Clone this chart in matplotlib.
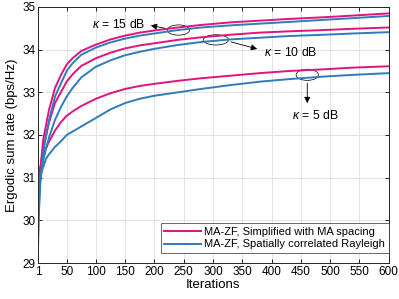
import matplotlib
matplotlib.use("Agg")
import matplotlib.pyplot as plt
from matplotlib.patches import Ellipse

plt.rcParams['font.family'] = ['Liberation Sans', 'DejaVu Sans']
plt.rcParams['mathtext.fontset'] = 'custom'
plt.rcParams['mathtext.it'] = 'Liberation Sans:italic'

iters = [1, 2, 5, 10, 15, 20, 30, 40, 50, 60, 75, 100, 125, 150, 175, 200, 240, 280, 330, 380, 430, 490, 540, 600]

red_k15 = [29.6, 30.4, 31.2, 31.9, 32.25, 32.6, 33.1, 33.4, 33.65, 33.8, 33.97, 34.12, 34.24, 34.33, 34.40, 34.45, 34.52, 34.58, 34.64, 34.68, 34.72, 34.76, 34.80, 34.85]
blue_k15 = [29.3, 30.0, 30.9, 31.6, 32.0, 32.35, 32.9, 33.2, 33.5, 33.68, 33.88, 34.05, 34.17, 34.26, 34.33, 34.38, 34.46, 34.52, 34.57, 34.61, 34.65, 34.70, 34.74, 34.79]
red_k10 = [30.0, 30.6, 31.2, 31.7, 32.0, 32.3, 32.75, 33.0, 33.25, 33.42, 33.62, 33.8, 33.93, 34.03, 34.10, 34.15, 34.23, 34.29, 34.35, 34.40, 34.43, 34.46, 34.49, 34.52]
blue_k10 = [29.5, 30.2, 30.95, 31.4, 31.7, 31.95, 32.35, 32.65, 32.9, 33.1, 33.35, 33.6, 33.75, 33.87, 33.95, 34.02, 34.11, 34.18, 34.24, 34.28, 34.32, 34.35, 34.38, 34.41]
red_k5 = [30.8, 31.0, 31.25, 31.5, 31.7, 31.85, 32.1, 32.3, 32.45, 32.55, 32.68, 32.85, 32.98, 33.08, 33.15, 33.2, 33.27, 33.33, 33.39, 33.45, 33.50, 33.54, 33.58, 33.61]
blue_k5 = [30.75, 30.9, 31.05, 31.25, 31.45, 31.55, 31.72, 31.85, 32.0, 32.08, 32.2, 32.4, 32.6, 32.75, 32.85, 32.92, 33.0, 33.08, 33.17, 33.25, 33.31, 33.37, 33.41, 33.45]

xticks = [1, 50, 100, 150, 200, 250, 300, 350, 400, 450, 500, 550, 600]
yticks = [29, 30, 31, 32, 33, 34, 35]
legend_labels = ['MA-ZF, Simplified with MA spacing', 'MA-ZF, Spatially correlated Rayleigh']

RED = '#E0147A'
BLUE = '#2F7BBF'

fig = plt.figure(figsize=(3.99, 2.99), dpi=100)
ax = fig.add_axes([0.0952, 0.1204, 0.8788, 0.8562])

lw = 1.4
l1, = ax.plot(iters, red_k15, color=RED, lw=lw)
ax.plot(iters, red_k10, color=RED, lw=lw)
ax.plot(iters, red_k5, color=RED, lw=lw)
l2, = ax.plot(iters, blue_k15, color=BLUE, lw=lw)
ax.plot(iters, blue_k10, color=BLUE, lw=lw)
ax.plot(iters, blue_k5, color=BLUE, lw=lw)

ax.set_xlim(1, 600)
ax.set_ylim(29, 35)
ax.set_xticks(xticks)
ax.set_yticks(yticks)
ax.grid(True, color='#E3E3E3', lw=0.7)
ax.set_axisbelow(True)
ax.tick_params(direction='in', top=True, right=True, labelsize=8.5, length=3, width=0.6, pad=2)
for s in ax.spines.values():
    s.set_linewidth(0.7)
    s.set_color('#262626')

ax.set_xlabel('Iterations', fontsize=9.5, labelpad=1)
ax.set_ylabel('Ergodic sum rate (bps/Hz)', fontsize=9.5, labelpad=3)

# annotations
ell_kw = dict(fill=False, ec='#222222', lw=0.6)
ax.add_patch(Ellipse((241, 34.46), 38, 0.24, **ell_kw))
ax.add_patch(Ellipse((305, 34.23), 43, 0.24, **ell_kw))
ax.add_patch(Ellipse((461, 33.41), 38, 0.26, **ell_kw))

arr = dict(arrowstyle='-|>', color='black', lw=0.6, mutation_scale=9)
ax.annotate('', xy=(189, 34.58), xytext=(222, 34.49), arrowprops=arr)
ax.text(185, 34.59, r'$\kappa$ = 15 dB', fontsize=8.8, ha='right', va='center')
ax.annotate('', xy=(380, 34.0), xytext=(326, 34.2), arrowprops=arr)
ax.text(387, 33.94, r'$\kappa$ = 10 dB', fontsize=8.8, ha='left', va='center')
ax.annotate('', xy=(461, 32.68), xytext=(461, 33.28), arrowprops=arr)
ax.text(474, 32.45, r'$\kappa$ = 5 dB', fontsize=8.8, ha='center', va='center')

leg = ax.legend([l1, l2], legend_labels, loc='lower right', fontsize=8.0,
                frameon=True, fancybox=False, borderpad=0.3, handlelength=3.3,
                handletextpad=0.3, labelspacing=0.25, borderaxespad=0.0,
                bbox_to_anchor=(1.0, 0.04))
leg.get_frame().set_edgecolor('#262626')
leg.get_frame().set_linewidth(0.6)

fig.savefig('out.png', dpi=100)
